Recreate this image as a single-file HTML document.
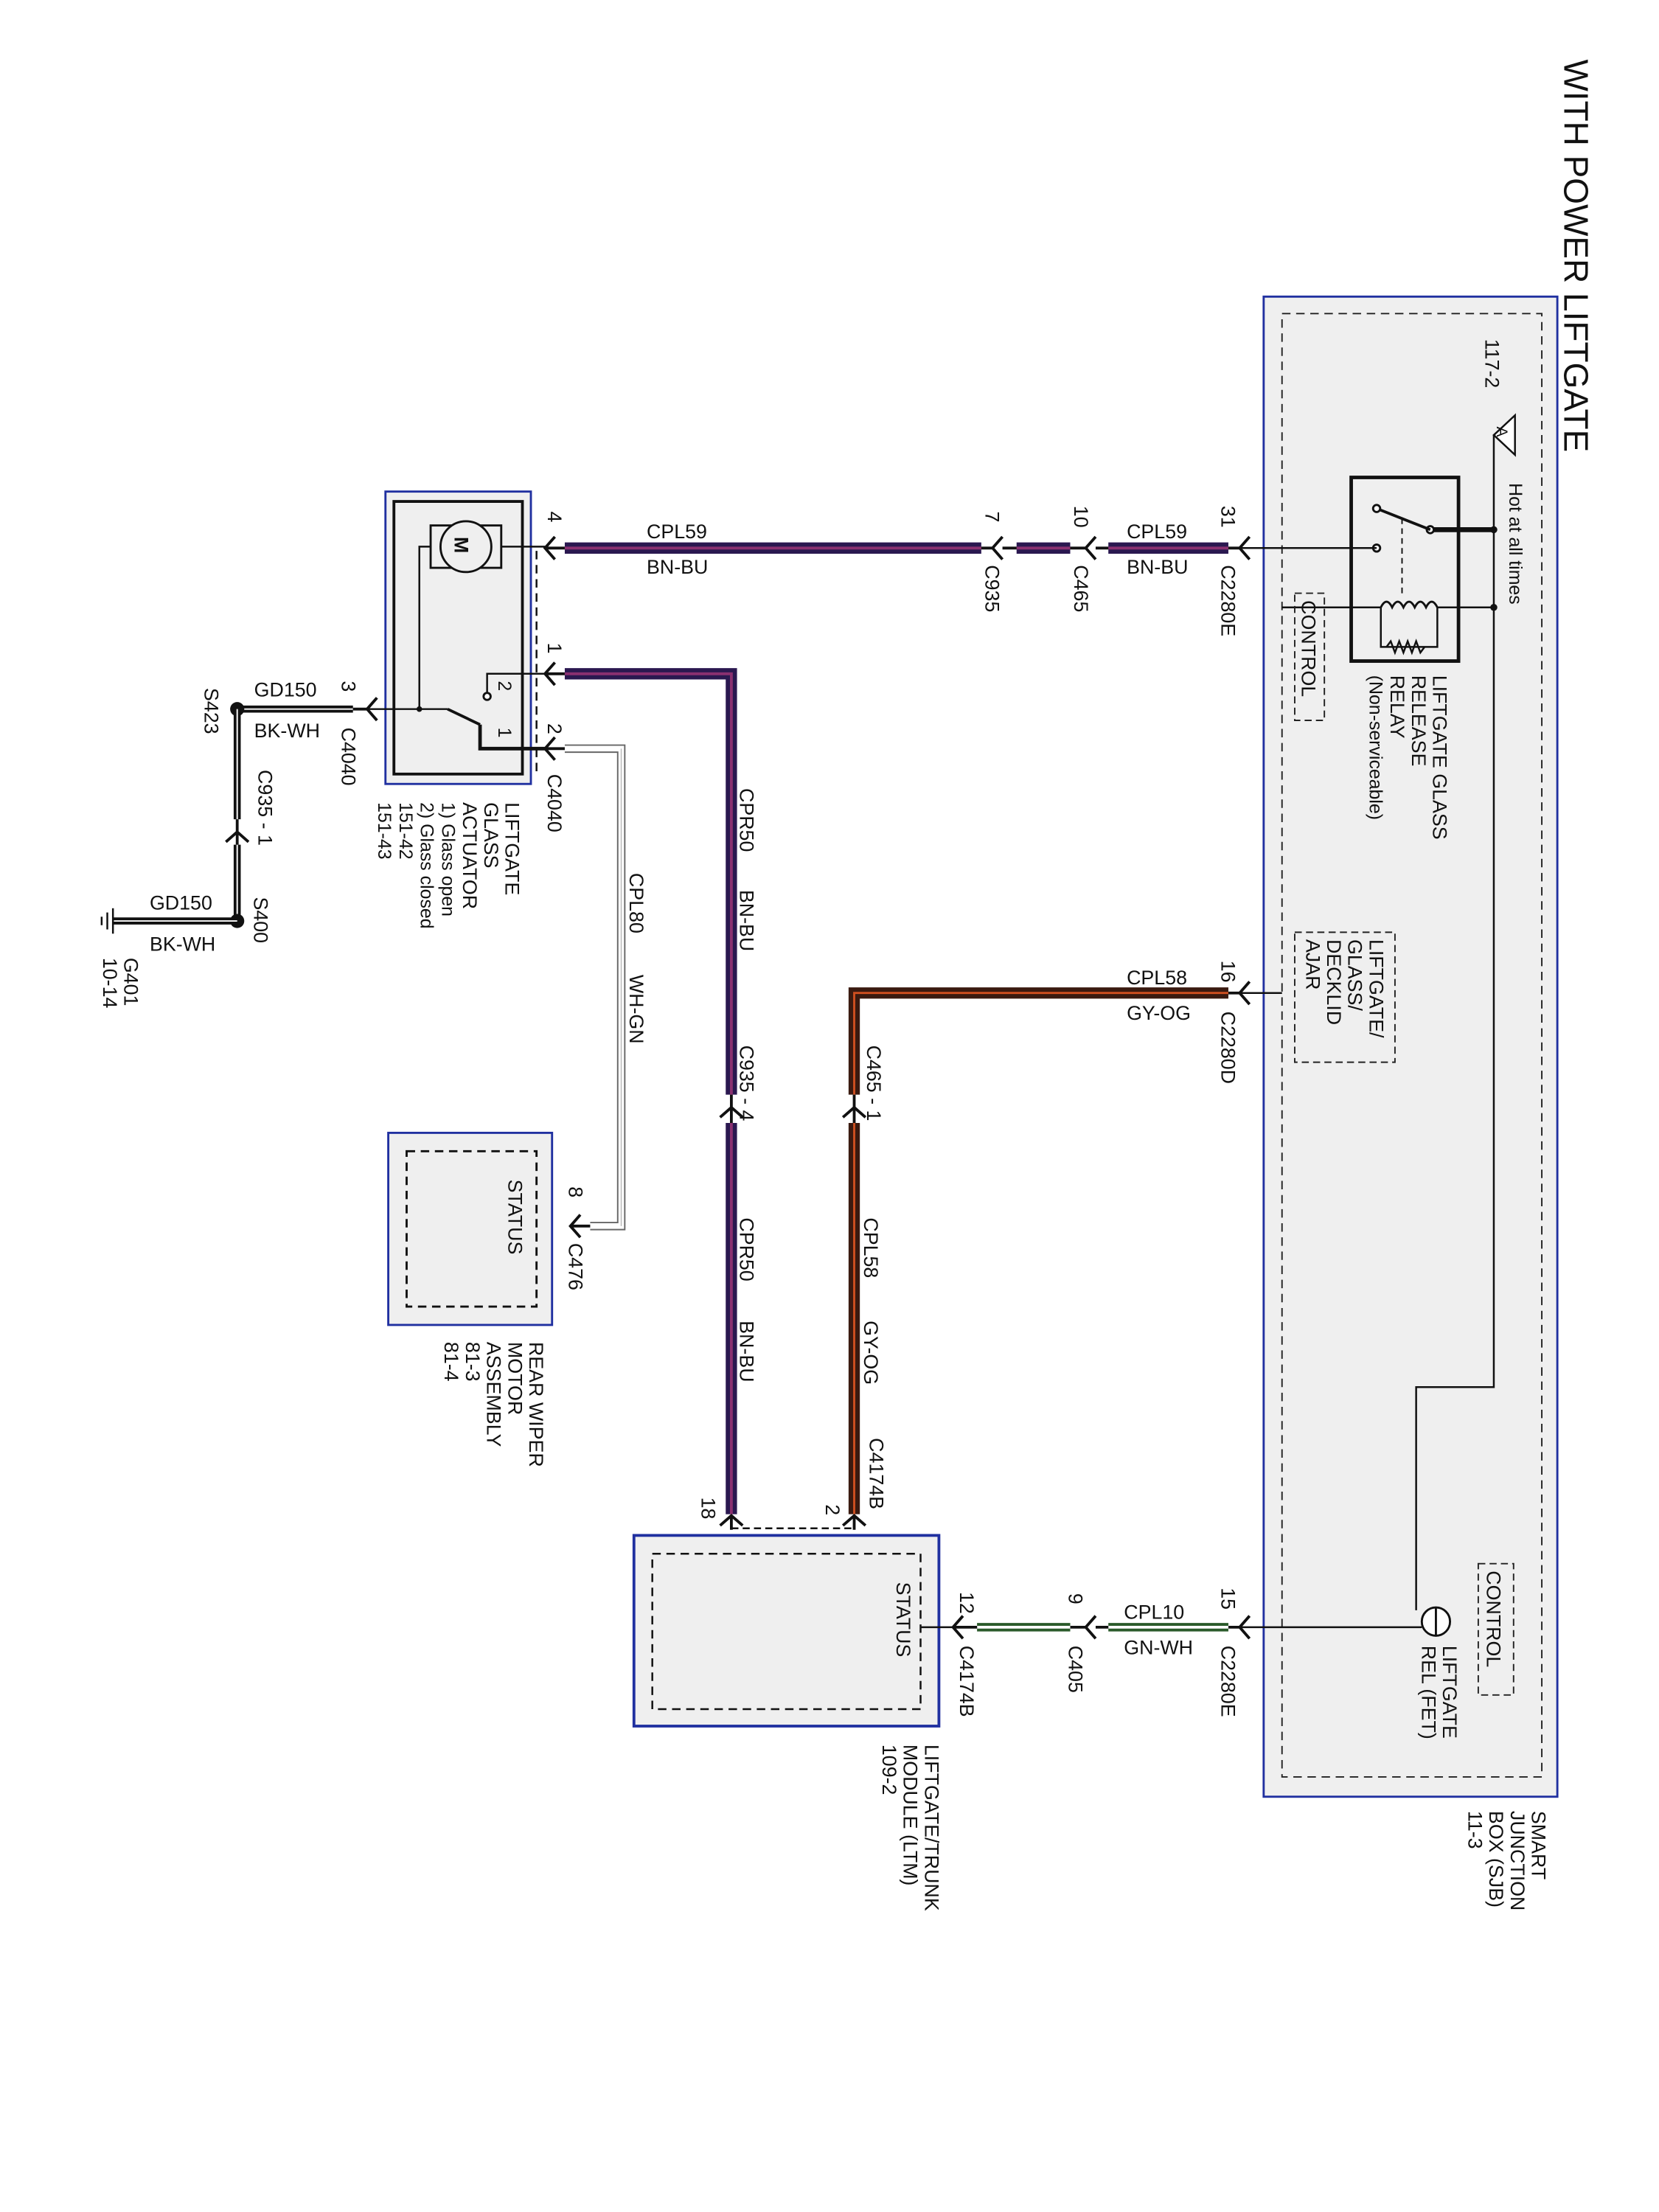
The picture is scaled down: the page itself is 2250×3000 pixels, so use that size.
<!DOCTYPE html>
<html><head><meta charset="utf-8"><style>
html,body{margin:0;padding:0;background:#fff;}
svg{display:block}
text{font-family:"Liberation Sans",Arial,sans-serif;fill:#111;}
</style></head><body>
<svg width="2250" height="3000" viewBox="0 0 1175 1566" preserveAspectRatio="none" xmlns="http://www.w3.org/2000/svg">
<rect width="1175" height="1566" fill="#fff"/>
<!-- Title -->
<text x="1108" y="42" font-size="24" transform="rotate(90 1108 42)">WITH POWER LIFTGATE</text>

<!-- SJB -->
<rect x="895" y="210" width="208" height="1062" fill="#efefef" stroke="#2030a0" stroke-width="1.5"/>
<rect x="908" y="222" width="184" height="1036" fill="none" stroke="#222" stroke-width="1" stroke-dasharray="6,4"/>
<text x="1052" y="240" font-size="14" transform="rotate(90 1052 240)">117-2</text>
<polygon points="1073,294 1073,322 1058,308" fill="#fff" stroke="#111" stroke-width="1.3"/>
<text x="1060" y="302" font-size="11" transform="rotate(90 1060 302)">A</text>
<text x="1069" y="342" font-size="13" transform="rotate(90 1069 342)">Hot at all times</text>
<!-- hot bus -->
<polyline points="1058,308 1058,982 1003,982 1003,1140" fill="none" stroke="#111" stroke-width="1.3"/>
<!-- relay -->
<rect x="957" y="338" width="76" height="130" fill="#efefef" stroke="#111" stroke-width="2.5"/>
<line x1="1058" y1="375" x2="1013" y2="375" stroke="#111" stroke-width="3.5"/>
<circle cx="1058" cy="375" r="2.5" fill="#111"/>
<circle cx="1013" cy="375" r="2.5" fill="#fff" stroke="#111" stroke-width="1.5"/>
<line x1="1013" y1="375" x2="975" y2="360" stroke="#111" stroke-width="2"/>
<circle cx="975" cy="360" r="2.5" fill="#fff" stroke="#111" stroke-width="1.5"/>
<circle cx="975" cy="388" r="2.5" fill="#fff" stroke="#111" stroke-width="1.5"/>
<line x1="993" y1="367" x2="993" y2="420" stroke="#111" stroke-width="1" stroke-dasharray="4,3"/>
<line x1="1058" y1="430" x2="1018" y2="430" stroke="#111" stroke-width="1.3"/>
<line x1="978" y1="430" x2="908" y2="430" stroke="#111" stroke-width="1.3"/>
<path d="M978,430 q4,-8 8,0 q4,-8 8,0 q4,-8 8,0 q4,-8 8,0 q4,-8 8,0" fill="none" stroke="#111" stroke-width="1.5"/>
<polyline points="978,430 978,458 1018,458 1018,430" fill="none" stroke="#111" stroke-width="1.3"/>
<path d="M982,458 l3,-4 l3,8 l3,-8 l3,8 l3,-8 l3,8 l3,-8 l3,8 l3,-4" fill="none" stroke="#111" stroke-width="1.3"/>
<circle cx="1058" cy="430" r="2.5" fill="#111"/>
<text x="1015" y="478" font-size="14" transform="rotate(90 1015 478)">LIFTGATE GLASS</text>
<text x="1000" y="478" font-size="14" transform="rotate(90 1000 478)">RELEASE</text>
<text x="985" y="478" font-size="14" transform="rotate(90 985 478)">RELAY</text>
<text x="970" y="478" font-size="13" transform="rotate(90 970 478)">(Non-serviceable)</text>
<rect x="917" y="420" width="21" height="90" fill="none" stroke="#222" stroke-dasharray="5,3"/>
<text x="922" y="425" font-size="14" transform="rotate(90 922 425)">CONTROL</text>
<rect x="917" y="660" width="71" height="92" fill="none" stroke="#222" stroke-dasharray="5,3"/>
<text x="970" y="665" font-size="14" transform="rotate(90 970 665)">LIFTGATE/</text>
<text x="955" y="665" font-size="14" transform="rotate(90 955 665)">GLASS/</text>
<text x="940" y="665" font-size="14" transform="rotate(90 940 665)">DECKLID</text>
<text x="925" y="665" font-size="14" transform="rotate(90 925 665)">AJAR</text>
<!-- FET -->
<circle cx="1017" cy="1148" r="10" fill="#fff" stroke="#111" stroke-width="1.5"/>
<line x1="1017" y1="1138" x2="1017" y2="1158" stroke="#111" stroke-width="1.5"/>
<rect x="1047" y="1107" width="25" height="93" fill="none" stroke="#222" stroke-dasharray="5,3"/>
<text x="1053" y="1112" font-size="14" transform="rotate(90 1053 1112)">CONTROL</text>
<text x="1022" y="1165" font-size="14" transform="rotate(90 1022 1165)">LIFTGATE</text>
<text x="1007" y="1165" font-size="14" transform="rotate(90 1007 1165)">REL (FET)</text>
<text x="1085" y="1282" font-size="14" transform="rotate(90 1085 1282)">SMART</text>
<text x="1070" y="1282" font-size="14" transform="rotate(90 1070 1282)">JUNCTION</text>
<text x="1055" y="1282" font-size="14" transform="rotate(90 1055 1282)">BOX (SJB)</text>
<text x="1040" y="1282" font-size="14" transform="rotate(90 1040 1282)">11-3</text>

<!-- CPL59 wire -->
<line x1="975" y1="388" x2="870" y2="388" stroke="#111" stroke-width="1.3"/>
<line x1="870" y1="388" x2="785" y2="388" stroke="#2a1850" stroke-width="8"/>
<line x1="870" y1="388" x2="785" y2="388" stroke="#8a3070" stroke-width="2"/>
<line x1="758" y1="388" x2="720" y2="388" stroke="#2a1850" stroke-width="8"/>
<line x1="758" y1="388" x2="720" y2="388" stroke="#8a3070" stroke-width="2"/>
<line x1="695" y1="388" x2="400" y2="388" stroke="#2a1850" stroke-width="8"/>
<line x1="695" y1="388" x2="400" y2="388" stroke="#8a3070" stroke-width="2"/>
<g stroke="#111" stroke-width="2" fill="none">
<path d="M885,380 l-7,8 l7,8 M878,388 h-8"/>
<path d="M776,380 l-7,8 l7,8 M769,388 h-11 M785,388 h-9"/>
<path d="M710,380 l-7,8 l7,8 M703,388 h-8 M720,388 h-10"/>
<path d="M393,380 l-7,8 l7,8 M386,388 h14"/>
</g>
<text x="865" y="358" font-size="14" transform="rotate(90 865 358)">31</text>
<text x="798" y="381" font-size="14">CPL59</text>
<text x="798" y="406" font-size="14">BN-BU</text>
<text x="865" y="400" font-size="14" transform="rotate(90 865 400)">C2280E</text>
<text x="761" y="358" font-size="14" transform="rotate(90 761 358)">10</text>
<text x="761" y="400" font-size="14" transform="rotate(90 761 400)">C465</text>
<text x="698" y="362" font-size="14" transform="rotate(90 698 362)">7</text>
<text x="698" y="400" font-size="14" transform="rotate(90 698 400)">C935</text>
<text x="458" y="381" font-size="14">CPL59</text>
<text x="458" y="406" font-size="14">BN-BU</text>
<text x="388" y="362" font-size="14" transform="rotate(90 388 362)">4</text>

<!-- actuator -->
<rect x="273" y="348" width="103" height="207" fill="#efefef" stroke="#2030a0" stroke-width="1.5"/>
<rect x="279" y="355" width="91" height="193" fill="none" stroke="#111" stroke-width="2"/>
<rect x="305" y="372" width="50" height="30" fill="none" stroke="#111" stroke-width="1.5"/>
<circle cx="330" cy="387" r="18" fill="#efefef" stroke="#111" stroke-width="1.5"/>
<text x="322" y="380" font-size="14" font-weight="bold" transform="rotate(90 322 380)">M</text>
<polyline points="355,387 386,387" fill="none" stroke="#111" stroke-width="1.3"/>
<polyline points="305,387 297,387 297,502" fill="none" stroke="#111" stroke-width="1.3"/>
<line x1="380" y1="390" x2="380" y2="548" stroke="#111" stroke-width="1.3" stroke-dasharray="6,4"/>
<polyline points="386,477 345,477 345,490" fill="none" stroke="#111" stroke-width="1.3"/>
<circle cx="345" cy="493" r="2.5" fill="#fff" stroke="#111" stroke-width="1.5"/>
<line x1="317" y1="502" x2="340" y2="513" stroke="#111" stroke-width="2"/>
<polyline points="340,513 340,530 386,530" fill="none" stroke="#111" stroke-width="2.5"/>
<text x="353" y="482" font-size="13" transform="rotate(90 353 482)">2</text>
<text x="353" y="515" font-size="13" transform="rotate(90 353 515)">1</text>
<line x1="260" y1="502" x2="317" y2="502" stroke="#111" stroke-width="1.3"/>
<circle cx="297" cy="502" r="2" fill="#111"/>
<text x="358" y="568" font-size="14" transform="rotate(90 358 568)">LIFTGATE</text>
<text x="343" y="568" font-size="14" transform="rotate(90 343 568)">GLASS</text>
<text x="328" y="568" font-size="14" transform="rotate(90 328 568)">ACTUATOR</text>
<text x="313" y="568" font-size="13" transform="rotate(90 313 568)">1) Glass open</text>
<text x="298" y="568" font-size="13" transform="rotate(90 298 568)">2) Glass closed</text>
<text x="283" y="568" font-size="13" transform="rotate(90 283 568)">151-42</text>
<text x="268" y="568" font-size="13" transform="rotate(90 268 568)">151-43</text>

<!-- CPR50 wire -->
<polyline points="400,477 518,477 518,775" fill="none" stroke="#2a1850" stroke-width="8"/>
<polyline points="400,477 518,477 518,775" fill="none" stroke="#8a3070" stroke-width="2"/>
<polyline points="518,795 518,1072" fill="none" stroke="#2a1850" stroke-width="8"/>
<polyline points="518,795 518,1072" fill="none" stroke="#8a3070" stroke-width="2"/>
<g stroke="#111" stroke-width="2" fill="none">
<path d="M393,469 l-7,8 l7,8 M386,477 h14"/>
<path d="M510,791 l8,-7 l8,7 M518,784 v11 M518,775 v9"/>
<path d="M510,1080 l8,-7 l8,7 M518,1073 v10"/>
</g>
<text x="388" y="455" font-size="14" transform="rotate(90 388 455)">1</text>
<text x="524" y="558" font-size="14" transform="rotate(90 524 558)">CPR50</text>
<text x="524" y="630" font-size="14" transform="rotate(90 524 630)">BN-BU</text>
<text x="524" y="740" font-size="14" transform="rotate(90 524 740)">C935 - 4</text>
<text x="524" y="862" font-size="14" transform="rotate(90 524 862)">CPR50</text>
<text x="524" y="935" font-size="14" transform="rotate(90 524 935)">BN-BU</text>
<text x="497" y="1060" font-size="14" transform="rotate(90 497 1060)">18</text>

<!-- CPL80 wire -->
<polyline points="400,530 440,530 440,868 418,868" fill="none" stroke="#666" stroke-width="6"/>
<polyline points="400,530 440,530 440,868 418,868" fill="none" stroke="#fff" stroke-width="4"/>
<line x1="440" y1="530" x2="440" y2="868" stroke="#bbb" stroke-width="0.8"/>
<g stroke="#111" stroke-width="2" fill="none">
<path d="M393,522 l-7,8 l7,8 M386,530 h14"/>
<path d="M411,860 l-7,8 l7,8 M404,868 h14"/>
</g>
<text x="388" y="512" font-size="14" transform="rotate(90 388 512)">2</text>
<text x="388" y="548" font-size="14" transform="rotate(90 388 548)">C4040</text>
<text x="446" y="618" font-size="14" transform="rotate(90 446 618)">CPL80</text>
<text x="446" y="690" font-size="14" transform="rotate(90 446 690)">WH-GN</text>

<!-- rear wiper -->
<rect x="275" y="802" width="116" height="136" fill="#efefef" stroke="#2030a0" stroke-width="1.5"/>
<rect x="288" y="815" width="92" height="110" fill="none" stroke="#111" stroke-width="1.5" stroke-dasharray="6,4"/>
<text x="360" y="835" font-size="14" transform="rotate(90 360 835)">STATUS</text>
<text x="403" y="840" font-size="14" transform="rotate(90 403 840)">8</text>
<text x="403" y="880" font-size="14" transform="rotate(90 403 880)">C476</text>
<text x="375" y="950" font-size="14" transform="rotate(90 375 950)">REAR WIPER</text>
<text x="360" y="950" font-size="14" transform="rotate(90 360 950)">MOTOR</text>
<text x="345" y="950" font-size="14" transform="rotate(90 345 950)">ASSEMBLY</text>
<text x="330" y="950" font-size="14" transform="rotate(90 330 950)">81-3</text>
<text x="315" y="950" font-size="14" transform="rotate(90 315 950)">81-4</text>

<!-- ground circuit -->
<line x1="168" y1="502" x2="250" y2="502" stroke="#111" stroke-width="5"/>
<line x1="168" y1="502" x2="250" y2="502" stroke="#fff" stroke-width="1"/>
<g stroke="#111" stroke-width="2" fill="none"><path d="M267,494 l-7,8 l7,8 M260,502 h-10"/></g>
<circle cx="168" cy="502" r="5" fill="#111"/>
<line x1="168" y1="502" x2="168" y2="580" stroke="#111" stroke-width="5"/>
<line x1="168" y1="502" x2="168" y2="580" stroke="#fff" stroke-width="1"/>
<line x1="168" y1="598" x2="168" y2="652" stroke="#111" stroke-width="5"/>
<line x1="168" y1="598" x2="168" y2="652" stroke="#fff" stroke-width="1"/>
<g stroke="#111" stroke-width="2" fill="none"><path d="M160,596 l8,-7 l8,7 M168,589 v9 M168,580 v9"/></g>
<circle cx="168" cy="652" r="5" fill="#111"/>
<line x1="80" y1="652" x2="168" y2="652" stroke="#111" stroke-width="5"/>
<line x1="80" y1="652" x2="168" y2="652" stroke="#fff" stroke-width="1"/>
<g stroke="#111" stroke-width="1.3"><line x1="80" y1="643" x2="80" y2="661"/><line x1="76" y1="646" x2="76" y2="658"/><line x1="72" y1="649" x2="72" y2="655"/></g>
<text x="180" y="493" font-size="14">GD150</text>
<text x="180" y="522" font-size="14">BK-WH</text>
<text x="242" y="482" font-size="14" transform="rotate(90 242 482)">3</text>
<text x="242" y="515" font-size="14" transform="rotate(90 242 515)">C4040</text>
<text x="145" y="487" font-size="14" transform="rotate(90 145 487)">S423</text>
<text x="183" y="545" font-size="14" transform="rotate(90 183 545)">C935 - 1</text>
<text x="180" y="635" font-size="14" transform="rotate(90 180 635)">S400</text>
<text x="106" y="644" font-size="14">GD150</text>
<text x="106" y="673" font-size="14">BK-WH</text>
<text x="88" y="678" font-size="14" transform="rotate(90 88 678)">G401</text>
<text x="73" y="678" font-size="14" transform="rotate(90 73 678)">10-14</text>

<!-- CPL58 -->
<line x1="908" y1="703" x2="870" y2="703" stroke="#111" stroke-width="1.3"/>
<polyline points="870,703 605,703 605,775" fill="none" stroke="#3a1a10" stroke-width="8"/>
<polyline points="870,703 605,703 605,775" fill="none" stroke="#d05020" stroke-width="1.5"/>
<line x1="605" y1="795" x2="605" y2="1072" stroke="#3a1a10" stroke-width="8"/>
<line x1="605" y1="795" x2="605" y2="1072" stroke="#d05020" stroke-width="1.5"/>
<g stroke="#111" stroke-width="2" fill="none">
<path d="M885,695 l-7,8 l7,8 M878,703 h-8"/>
<path d="M597,791 l8,-7 l8,7 M605,784 v11 M605,775 v9"/>
<path d="M597,1080 l8,-7 l8,7 M605,1073 v10"/>
</g>
<line x1="518" y1="1082" x2="605" y2="1082" stroke="#111" stroke-width="1.3" stroke-dasharray="5,3"/>
<text x="865" y="680" font-size="14" transform="rotate(90 865 680)">16</text>
<text x="798" y="697" font-size="14">CPL58</text>
<text x="798" y="722" font-size="14">GY-OG</text>
<text x="865" y="716" font-size="14" transform="rotate(90 865 716)">C2280D</text>
<text x="614" y="740" font-size="14" transform="rotate(90 614 740)">C465 - 1</text>
<text x="612" y="862" font-size="14" transform="rotate(90 612 862)">CPL58</text>
<text x="612" y="935" font-size="14" transform="rotate(90 612 935)">GY-OG</text>
<text x="616" y="1018" font-size="14" transform="rotate(90 616 1018)">C4174B</text>
<text x="585" y="1065" font-size="14" transform="rotate(90 585 1065)">2</text>

<!-- LTM -->
<rect x="449" y="1087" width="216" height="135" fill="#efefef" stroke="#2030a0" stroke-width="2"/>
<rect x="462" y="1100" width="190" height="110" fill="none" stroke="#111" stroke-width="1.3" stroke-dasharray="6,4"/>
<text x="635" y="1120" font-size="14" transform="rotate(90 635 1120)">STATUS</text>
<text x="655" y="1235" font-size="14" transform="rotate(90 655 1235)">LIFTGATE/TRUNK</text>
<text x="640" y="1235" font-size="14" transform="rotate(90 640 1235)">MODULE (LTM)</text>
<text x="625" y="1235" font-size="14" transform="rotate(90 625 1235)">109-2</text>

<!-- CPL10 -->
<line x1="1007" y1="1152" x2="870" y2="1152" stroke="#111" stroke-width="1.3"/>
<line x1="870" y1="1152" x2="785" y2="1152" stroke="#2a5a2a" stroke-width="6"/>
<line x1="870" y1="1152" x2="785" y2="1152" stroke="#fff" stroke-width="2"/>
<line x1="758" y1="1152" x2="692" y2="1152" stroke="#2a5a2a" stroke-width="6"/>
<line x1="758" y1="1152" x2="692" y2="1152" stroke="#fff" stroke-width="2"/>
<line x1="692" y1="1152" x2="652" y2="1152" stroke="#111" stroke-width="1.3"/>
<g stroke="#111" stroke-width="2" fill="none">
<path d="M885,1144 l-7,8 l7,8 M878,1152 h-8"/>
<path d="M776,1144 l-7,8 l7,8 M769,1152 h-11 M785,1152 h-9"/>
<path d="M682,1144 l-7,8 l7,8 M675,1152 h17"/>
</g>
<text x="865" y="1124" font-size="14" transform="rotate(90 865 1124)">15</text>
<text x="796" y="1146" font-size="14">CPL10</text>
<text x="796" y="1171" font-size="14">GN-WH</text>
<text x="865" y="1165" font-size="14" transform="rotate(90 865 1165)">C2280E</text>
<text x="757" y="1128" font-size="14" transform="rotate(90 757 1128)">9</text>
<text x="757" y="1165" font-size="14" transform="rotate(90 757 1165)">C405</text>
<text x="680" y="1127" font-size="14" transform="rotate(90 680 1127)">12</text>
<text x="680" y="1165" font-size="14" transform="rotate(90 680 1165)">C4174B</text>
</svg>
</body></html>
